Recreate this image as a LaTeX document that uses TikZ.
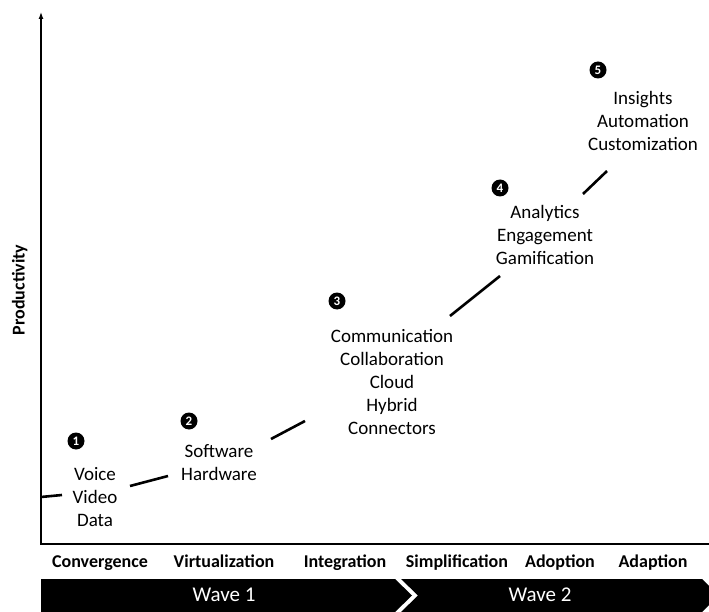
\documentclass[tikz,border=0pt]{standalone}
\usepackage{fontspec}
\setmainfont{Carlito}
\usetikzlibrary{arrows.meta}

\tikzset{
    stage/.style = {align=center, font=\fontsize{19}{23}\selectfont},
    phase/.style = {font=\bfseries\fontsize{18}{20}\selectfont,
        text height=0.72em, text depth=0.22em},
    numdot/.style = {circle, fill=black, text=white, inner sep=0pt,
        minimum size=17pt, font=\bfseries\fontsize{13}{13}\selectfont},
    curveseg/.style = {line width=2.6pt},
    wave/.style = {fill=black},
    wavetext/.style = {text=white, font=\fontsize{21}{24}\selectfont}
}

\begin{document}
\begin{tikzpicture}[x=1pt, y=-1pt]
    \useasboundingbox (0,0) rectangle (709,612);
    \coordinate (ytop) at (41,12);
    \coordinate (xend) at (709,544);
    \draw[line width=1.2pt, {Latex[length=7pt, width=5pt]}-] (ytop) |- (xend);
    \node[phase, rotate=90] (ylab) at (22,290) {Productivity};

    \node[phase] (p1) at (100,565) {Convergence};
    \node[phase] (p2) at (224,565) {Virtualization};
    \node[phase] (p3) at (345,565) {Integration};
    \node[phase] (p4) at (457,565) {Simplification};
    \node[phase] (p5) at (560,565) {Adoption};
    \node[phase] (p6) at (653,565) {Adaption};

    \fill[wave] (41,579) -- (395,579) -- (412,595.5) -- (395,612) -- (41,612) -- cycle;
    \fill[wave] (401,579) -- (702,579) -- (709,586) -- (709,605) -- (702,612)
        -- (401,612) -- (418,595.5) -- cycle;
    \node[wavetext] (w1) at (224,595) {Wave 1};
    \node[wavetext] (w2) at (540,595) {Wave 2};

    \node[stage] (t1) at (95,497) {Voice\\Video\\Data};
    \node[stage] (t2) at (219,462.5) {Software\\Hardware};
    \node[stage] (t3) at (392,382) {Communication\\Collaboration\\Cloud\\Hybrid\\Connectors};
    \node[stage] (t4) at (545,235) {Analytics\\Engagement\\Gamification};
    \node[stage] (t5) at (643,121) {Insights\\Automation\\Customization};

    \node[numdot] (n1) at (76,441) {1};
    \node[numdot] (n2) at (189,421) {2};
    \node[numdot] (n3) at (337,301) {3};
    \node[numdot] (n4) at (500,188) {4};
    \node[numdot] (n5) at (598,70) {5};

    \coordinate (s1a) at (41,497);   \coordinate (s1b) at (62,495);
    \coordinate (s2a) at (130,486);  \coordinate (s2b) at (168,476);
    \coordinate (s3a) at (271,439);  \coordinate (s3b) at (305,421);
    \coordinate (s4a) at (450,316);  \coordinate (s4b) at (500,276);
    \coordinate (s5a) at (583,194);  \coordinate (s5b) at (607,171);
    \foreach \s in {1,...,5}
        \draw[curveseg] (s\s a) -- (s\s b);
\end{tikzpicture}
\end{document}
